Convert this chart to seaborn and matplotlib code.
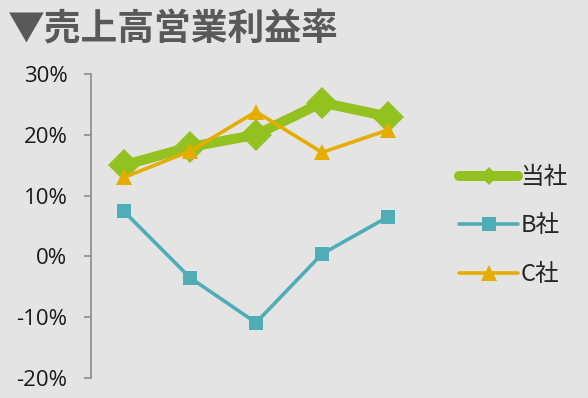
import matplotlib
matplotlib.use("Agg")
import matplotlib.pyplot as plt
import seaborn as sns
import pandas as pd
from matplotlib.ticker import FuncFormatter

years = [1, 2, 3, 4, 5]
tosha = [15.0, 18.0, 20.0, 25.3, 23.0]
b_sha = [7.4, -3.5, -10.9, 0.4, 6.5]
c_sha = [13.0, 17.3, 23.8, 17.1, 20.8]
series_names = ["当社", "B社", "C社"]
y_ticks = [-20, -10, 0, 10, 20, 30]
title = "▼売上高営業利益率"

bg = "#E4E4E4"
colors = {"当社": "#93C11F", "B社": "#4EADB6", "C社": "#E5AD00"}

sns.set_theme(style="white")
plt.rcParams["font.family"] = ["Noto Sans CJK JP", "DejaVu Sans"]

fig = plt.figure(figsize=(5.88, 3.98), dpi=100, facecolor=bg)
ax = fig.add_axes([91/588, 1-378/398, (421-91)/588, (378-74)/398])
ax.set_facecolor(bg)

df = pd.DataFrame({"x": years * 3,
                   "y": tosha + b_sha + c_sha,
                   "社": [series_names[0]]*5 + [series_names[1]]*5 + [series_names[2]]*5})

styles = {
    "当社": dict(lw=7.2, marker="D", ms=16, zorder=2),
    "B社": dict(lw=2.6, marker="s", ms=10, zorder=3),
    "C社": dict(lw=2.6, marker="^", ms=12, zorder=4),
}
for name in series_names:
    sub = df[df["社"] == name]
    st = styles[name]
    sns.lineplot(data=sub, x="x", y="y", ax=ax, color=colors[name], linewidth=st["lw"],
                 marker=st["marker"], markersize=st["ms"], markeredgewidth=0,
                 label=name, zorder=st["zorder"], legend=False)

ax.set_xlim(0.5, 5.5)
ax.set_ylim(-20, 30)
ax.set_yticks(y_ticks)
ax.yaxis.set_major_formatter(FuncFormatter(lambda v, p: f"{int(v)}%"))
ax.set_xticks([])
ax.set_xlabel("")
ax.set_ylabel("")
for s in ["top", "right", "bottom"]:
    ax.spines[s].set_visible(False)
ax.spines["left"].set_color("#8C8C8C")
ax.spines["left"].set_linewidth(1.2)
ax.tick_params(axis="y", which="major", direction="out", length=5, width=1.2,
               color="#8C8C8C", labelsize=16, labelcolor="#1A1A1A", pad=12, left=True)
for lbl in ax.get_yticklabels():
    lbl.set_family(["Open Sans", "DejaVu Sans"])

handles, labels = ax.get_legend_handles_labels()
leg = fig.legend(handles, labels, loc="center left", bbox_to_anchor=(438/588, 1-226/398),
                 frameon=False, fontsize=17, handlelength=2.5, labelspacing=1.07,
                 handletextpad=0.1)
leg_lines = leg.get_lines()
leg_lines[0].set_markersize(9)
leg_lines[0].set_solid_capstyle("round")

fig.text(8/588, 1-30/398, title, fontsize=26.5, fontweight="bold", color="#595959",
         va="center", ha="left")

fig.savefig("out.png", dpi=100, facecolor=bg)
